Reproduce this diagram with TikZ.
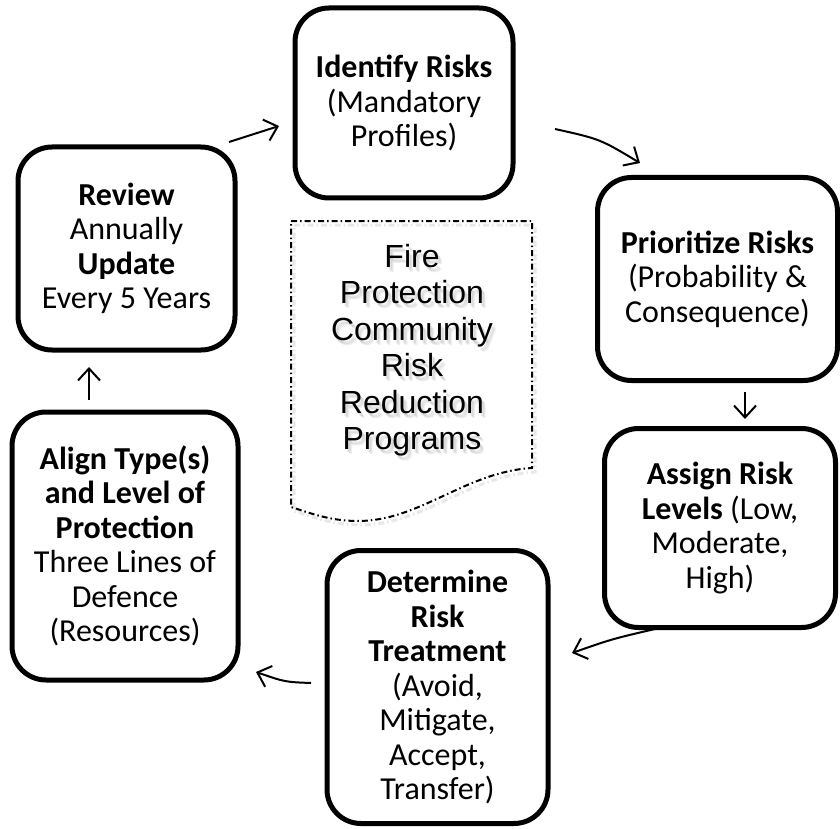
\documentclass[tikz,border=0pt]{standalone}
\usepackage{fontspec}
\setmainfont{Carlito}
\newfontfamily\docfont{Liberation Sans}
\usetikzlibrary{arrows.meta}
\tikzset{
  stepbox/.style={draw, line width=5pt, rounded corners=34pt, align=center,
    inner sep=0pt, font=\fontsize{32}{34.5}\selectfont},
  flow/.style={line width=2pt, -{Straight Barb[length=12pt,width=22pt]}},
  doctext/.style={align=center, font=\docfont\fontsize{32}{36.5}\selectfont},
  docline/.style={line width=2pt, dash pattern=on 6pt off 3pt on 1.5pt off 3pt}
}
\newcommand{\docpath}{(291,221) -- (532,221) -- (532,468)
        .. controls (465,472) and (420,521) .. (358,521)
        .. controls (330,521) and (310,513) .. (291,507) -- cycle}

\begin{document}
\begin{tikzpicture}[x=1pt,y=-1pt]
    \useasboundingbox (0,0) rectangle (840,829);
    % the six steps of the cycle
    \node[stepbox, minimum width=218pt, minimum height=190pt] (ident) at (404,103)
        {\textbf{Identify Risks}\\(Mandatory\\Profiles)};
    \node[stepbox, minimum width=240pt, minimum height=203pt] (prior) at (717.5,279)
        {\textbf{Prioritize Risks}\\(Probability \&\\Consequence)};
    \node[stepbox, minimum width=231pt, minimum height=199pt] (assign) at (720,528)
        {\textbf{Assign Risk}\\\textbf{Levels} (Low,\\Moderate,\\High)};
    \node[stepbox, minimum width=221pt, minimum height=273pt] (determ) at (437.5,687)
        {\textbf{Determine}\\\textbf{Risk}\\\textbf{Treatment}\\(Avoid,\\Mitigate,\\Accept,\\Transfer)};
    \node[stepbox, minimum width=226pt, minimum height=268pt] (align) at (125,546)
        {\textbf{Align Type(s)}\\\textbf{and Level of}\\\textbf{Protection}\\Three Lines of\\Defence\\(Resources)};
    \node[stepbox, minimum width=217pt, minimum height=203pt] (review) at (126.5,248.5)
        {\textbf{Review}\\Annually\\\textbf{Update}\\Every 5 Years};

    % centre document with its soft shadow
    \draw[docline, gray, opacity=0.18, line width=3pt, shift={(3,4)}] \docpath;
    \draw[docline] \docpath;
    \foreach \d in {2,3,4}
        \node[doctext, text=gray, opacity=0.12] at (412+\d,350+\d+1)
            {Fire\\Protection\\Community\\Risk\\Reduction\\Programs};
    \node[doctext] (prog) at (412,350)
        {Fire\\Protection\\Community\\Risk\\Reduction\\Programs};

    % arrow ends
    \coordinate (a1) at (229,142);  \coordinate (a2) at (279,126);
    \coordinate (b1) at (555,129);  \coordinate (b2) at (640,163);
    \coordinate (c1) at (745,392);  \coordinate (c2) at (745,419);
    \coordinate (d1) at (655,629);  \coordinate (d2) at (572,653);
    \coordinate (e1) at (311,683);  \coordinate (e2) at (256,672);
    \coordinate (f1) at (89,400);   \coordinate (f2) at (89,367);

    \draw[flow] (a1) -- (a2);
    \draw[flow] (b1) .. controls (600,139) .. (b2);
    \draw[flow] (c1) -- (c2);
    \draw[flow] (d1) .. controls (612,639) .. (d2);
    \draw[flow] (e1) .. controls (285,682) .. (e2);
    \draw[flow] (f1) -- (f2);
\end{tikzpicture}
\end{document}
